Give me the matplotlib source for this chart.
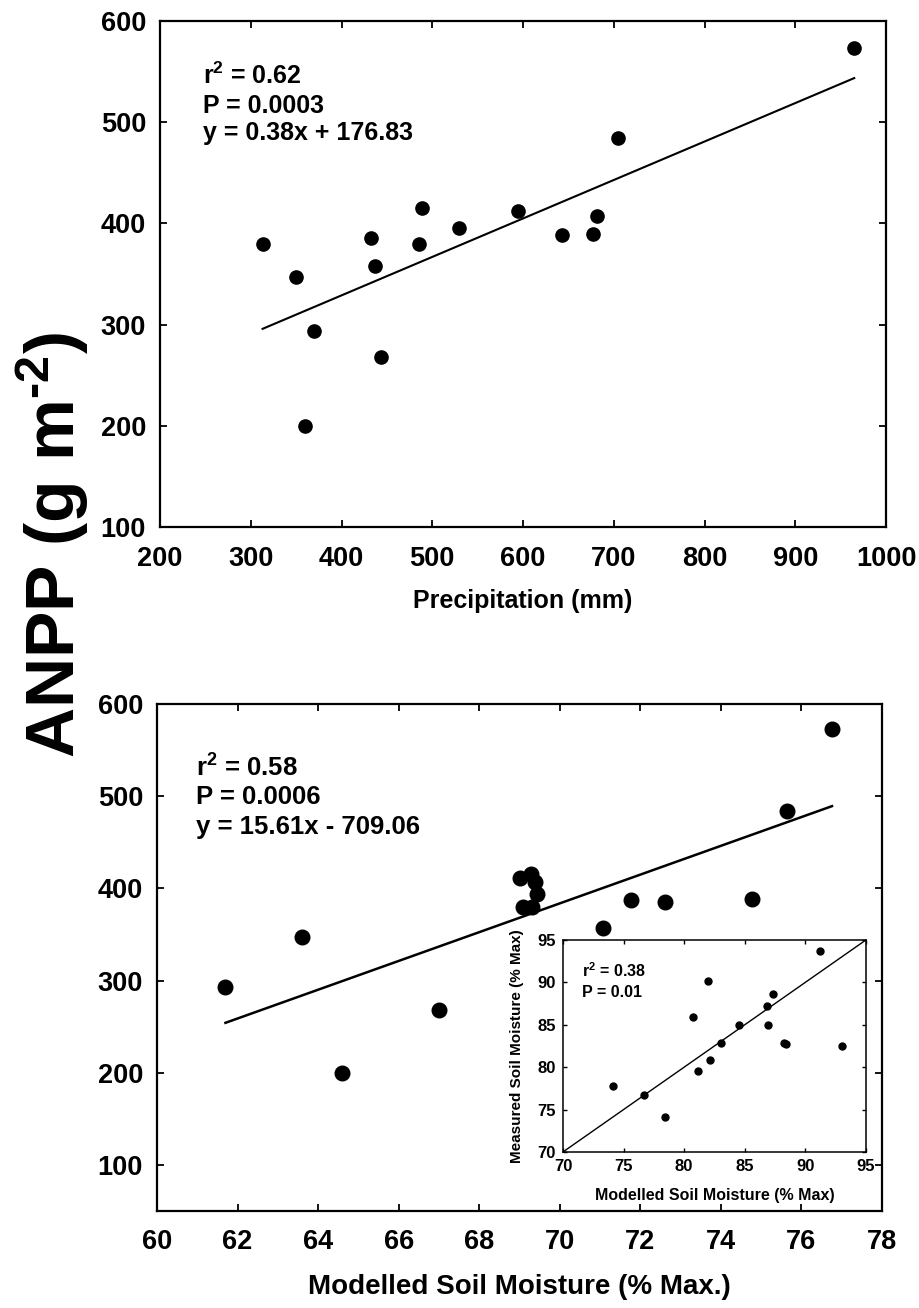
import matplotlib
matplotlib.use('Agg')
import matplotlib.pyplot as plt
import numpy as np

plt.rcParams['font.family'] = ['Liberation Sans', 'DejaVu Sans']
plt.rcParams['font.weight'] = 'bold'
plt.rcParams['mathtext.fontset'] = 'custom'
plt.rcParams['mathtext.rm'] = 'Liberation Sans:bold'
plt.rcParams['mathtext.bf'] = 'Liberation Sans:bold'
plt.rcParams['mathtext.default'] = 'bf'

# top panel: ANPP vs precipitation
precipitation = [313, 350, 370, 360, 432, 437, 443, 485, 489, 530, 595, 643, 677, 682, 705, 965]
anppPrecip = [380, 347, 294, 200, 386, 358, 268, 380, 415, 395, 412, 388, 389, 407, 484, 573]

# bottom panel: ANPP vs modelled soil moisture
soilMoisture = [61.7, 63.6, 64.6, 67.0, 69.01, 69.28, 69.38, 69.44, 69.09, 69.3,
                71.08, 71.78, 72.62, 74.78, 75.65, 76.76]
anppSoil = [293, 347, 200, 268, 411, 415, 407, 394, 380, 380, 357, 387, 385, 388, 484, 573]

# inset: measured vs modelled soil moisture
modelled = [74.1, 76.65, 78.4, 80.7, 81.1, 82.0, 82.1, 83.05, 84.5, 86.8, 86.9, 87.3,
            88.2, 88.4, 91.2, 93.0]
measured = [77.8, 76.7, 74.1, 85.9, 79.6, 90.1, 80.8, 82.8, 85.0, 87.2, 85.0, 88.6,
            82.9, 82.7, 93.7, 82.5]

fig = plt.figure(figsize=(9.19, 13.08), dpi=100)

axTop = fig.add_axes([0.1741, 0.5971, 0.79, 0.3869])
axBottom = fig.add_axes([0.1708, 0.0742, 0.7889, 0.3876])


def styleMain(ax, xpad, ypad):
    for spine in ax.spines.values():
        spine.set_linewidth(1.6)
    ax.tick_params(direction='in', top=True, right=True, length=5, width=1.3,
                   labelsize=19.5)
    ax.tick_params(axis='x', pad=xpad)
    ax.tick_params(axis='y', pad=ypad)


# top panel
axTop.plot(precipitation, anppPrecip, 'o', color='black', markersize=9.5)
xFit = np.array([min(precipitation), max(precipitation)])
axTop.plot(xFit, 0.38 * xFit + 176.83, color='black', linewidth=1.5)
axTop.set_xlim(200, 1000)
axTop.set_ylim(100, 600)
axTop.set_xticks(range(200, 1001, 100))
axTop.set_yticks(range(100, 601, 100))
styleMain(axTop, 14, 10)
axTop.set_xlabel('Precipitation (mm)', fontsize=18, fontweight='bold', va='center')
axTop.xaxis.set_label_coords(0.5, -0.146)
axTop.text(0.059, 0.876, r'r$^{\mathbf{2}}$ = 0.62', transform=axTop.transAxes, fontsize=18)
axTop.text(0.059, 0.819, 'P = 0.0003', transform=axTop.transAxes, fontsize=18)
axTop.text(0.059, 0.764, 'y = 0.38x + 176.83', transform=axTop.transAxes, fontsize=18)

# bottom panel
axBottom.plot(soilMoisture, anppSoil, 'o', color='black', markersize=10.5)
xFit = np.array([min(soilMoisture), max(soilMoisture)])
axBottom.plot(xFit, 15.61 * xFit - 709.06, color='black', linewidth=1.8)
axBottom.set_xlim(60, 78)
axBottom.set_ylim(50, 600)
axBottom.set_xticks(range(60, 79, 2))
axBottom.set_yticks(range(100, 601, 100))
styleMain(axBottom, 13, 10)
axBottom.set_xlabel('Modelled Soil Moisture (% Max.)', fontsize=20, fontweight='bold', va='center')
axBottom.xaxis.set_label_coords(0.5, -0.150)
axBottom.text(0.054, 0.857, r'r$^{\mathbf{2}}$ = 0.58', transform=axBottom.transAxes, fontsize=18.5)
axBottom.text(0.054, 0.802, 'P = 0.0006', transform=axBottom.transAxes, fontsize=18.5)
axBottom.text(0.054, 0.744, 'y = 15.61x - 709.06', transform=axBottom.transAxes, fontsize=18.5)

# inset
axInset = fig.add_axes([0.6126, 0.1193, 0.3297, 0.1621])
axInset.set_facecolor('white')
axInset.plot(modelled, measured, 'o', color='black', markersize=5)
axInset.plot([70, 95], [70, 95], color='black', linewidth=1.0)
axInset.set_xlim(70, 95)
axInset.set_ylim(70, 95)
axInset.set_xticks(range(70, 96, 5))
axInset.set_yticks(range(70, 96, 5))
for spine in axInset.spines.values():
    spine.set_linewidth(1.1)
axInset.tick_params(direction='in', top=True, right=True, length=3, width=1.0,
                    labelsize=12, pad=5)
axInset.set_xlabel('Modelled Soil Moisture (% Max)', fontsize=11.5, fontweight='bold', va='center')
axInset.xaxis.set_label_coords(0.5, -0.205)
axInset.set_ylabel('Measured Soil Moisture (% Max)', fontsize=11, fontweight='bold', va='center')
axInset.yaxis.set_label_coords(-0.152, 0.5)
axInset.text(0.062, 0.823, r'r$^{\mathbf{2}}$ = 0.38', transform=axInset.transAxes, fontsize=11.5)
axInset.text(0.062, 0.729, 'P = 0.01', transform=axInset.transAxes, fontsize=11.5)

# shared y label
fig.text(0.057, 1 - 545 / 1308, r'ANPP (g m$^{\text{-2}}$)', rotation=90,
         fontsize=50, fontweight='bold', ha='center', va='center')

fig.savefig('out.png', dpi=100)
